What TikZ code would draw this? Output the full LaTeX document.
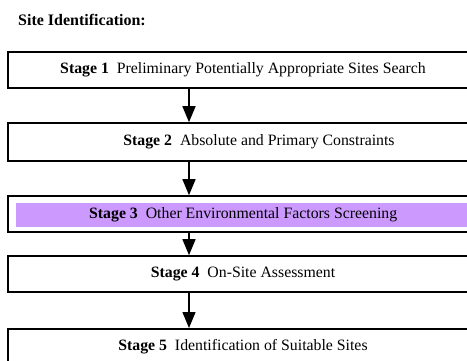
\documentclass[tikz,border=0pt]{standalone}
\usepackage{fontspec}
\setmainfont{Liberation Serif}
\usetikzlibrary{arrows.meta}
\definecolor{stagepurple}{RGB}{204,153,255}
\begin{document}
\begin{tikzpicture}[x=1pt,y=-1pt,
  stagefont/.style={font=\fontsize{15.8}{18}\selectfont},
  stagebox/.style={draw=black,line width=1.6pt,rectangle,minimum width=470pt,inner sep=0pt,stagefont},
  flowarr/.style={line width=1.5pt,-{Triangle[width=13pt,length=16pt]}}]
\useasboundingbox (0,0) rectangle (467,360);
\clip (0,0) rectangle (467,360);
\node[anchor=west,inner sep=0pt,font=\fontsize{16}{18}\selectfont\bfseries] (title) at (18,20) {Site Identification:};
\node[stagebox,minimum height=36pt] (s1) at (243,70) {\textbf{Stage 1}\hspace{0.5em}Preliminary Potentially Appropriate Sites Search};
\node[stagebox,minimum height=38pt] (s2) at (243,142) {\hspace{32pt}\textbf{Stage 2}\hspace{0.5em}Absolute and Primary Constraints};
\node[stagebox,minimum height=36pt] (s3) at (243,214) {};
\node[fill=stagepurple,minimum width=470pt,minimum height=24pt,inner sep=0pt,anchor=west,stagefont] (s3in) at (16,215) {\hspace{-16pt}\textbf{Stage 3}\hspace{0.5em}Other Environmental Factors Screening};
\node[stagebox,minimum height=36pt] (s4) at (243,274) {\textbf{Stage 4}\hspace{0.5em}On-Site Assessment};
\node[stagebox,minimum height=38pt,anchor=north] (s5) at (243,328) {};
\node[stagefont] (t5) at (243,347) {\textbf{Stage 5}\hspace{0.5em}Identification of Suitable Sites};
\coordinate (ax) at (189,0);
\draw[flowarr] (s1.south -| ax) -- (s2.north -| ax);
\draw[flowarr] (s2.south -| ax) -- (s3.north -| ax);
\draw[flowarr] (s3.south -| ax) -- (s4.north -| ax);
\draw[flowarr] (s4.south -| ax) -- (s5.north -| ax);
\end{tikzpicture}
\end{document}
